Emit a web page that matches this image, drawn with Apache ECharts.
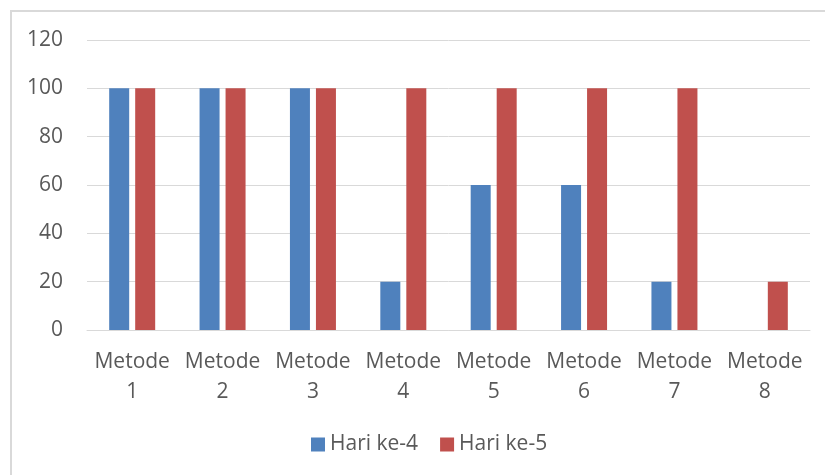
<!DOCTYPE html>
<html>
<head>
<meta charset="utf-8">
<script src="https://cdn.jsdelivr.net/npm/echarts@6/dist/echarts.min.js"></script>
<style>
  html, body { margin: 0; padding: 0; background: #fff; }
  #chart { width: 825px; height: 475px; }
</style>
</head>
<body>
<div id="chart"></div>
<script>
const categories = ["Metode\n1", "Metode\n2", "Metode\n3", "Metode\n4", "Metode\n5", "Metode\n6", "Metode\n7", "Metode\n8"];
const hariKe4 = [100, 100, 100, 20, 60, 60, 20, 0];
const hariKe5 = [100, 100, 100, 100, 100, 100, 100, 20];
const seriesNames = ["Hari ke-4", "Hari ke-5"];

const textColor = "#595959";
const fontFamily = "'Open Sans', sans-serif";

const myChart = echarts.init(document.getElementById("chart"));

const options = {
  animation: false,
  color: ["#4F81BD", "#C0504D"],
  graphic: [
    {
      type: "rect",
      shape: { x: 11, y: 11, width: 900, height: 900 },
      style: { fill: "none", stroke: "#D9D9D9", lineWidth: 2 },
      silent: true,
    },
  ],
  legend: {
    left: 311,
    top: 434,
    padding: 0,
    icon: "rect",
    itemWidth: 14,
    itemHeight: 14,
    itemGap: 22,
    textStyle: {
      color: textColor,
      fontSize: 21,
      fontFamily: fontFamily,
    },
    data: seriesNames,
  },
  grid: {
    left: 87,
    right: 15,
    top: 40,
    bottom: 145,
    containLabel: false,
  },
  xAxis: {
    type: "category",
    data: categories,
    axisLine: { lineStyle: { color: "#D9D9D9", width: 1 } },
    axisTick: { show: false },
    axisLabel: {
      color: textColor,
      fontSize: 21,
      fontFamily: fontFamily,
      lineHeight: 30,
      margin: 17,
      interval: 0,
    },
  },
  yAxis: {
    type: "value",
    min: 0,
    max: 120,
    interval: 20,
    axisLine: { show: false },
    axisTick: { show: false },
    axisLabel: {
      color: textColor,
      fontSize: 21,
      fontFamily: fontFamily,
      margin: 24,
    },
    splitLine: { lineStyle: { color: "#D9D9D9", width: 1 } },
  },
  series: [
    {
      name: seriesNames[0],
      type: "bar",
      data: hariKe4,
      barWidth: 20,
      barGap: "30%",
    },
    {
      name: seriesNames[1],
      type: "bar",
      data: hariKe5,
      barWidth: 20,
      barGap: "30%",
    },
  ],
};

myChart.setOption(options);
</script>
</body>
</html>
